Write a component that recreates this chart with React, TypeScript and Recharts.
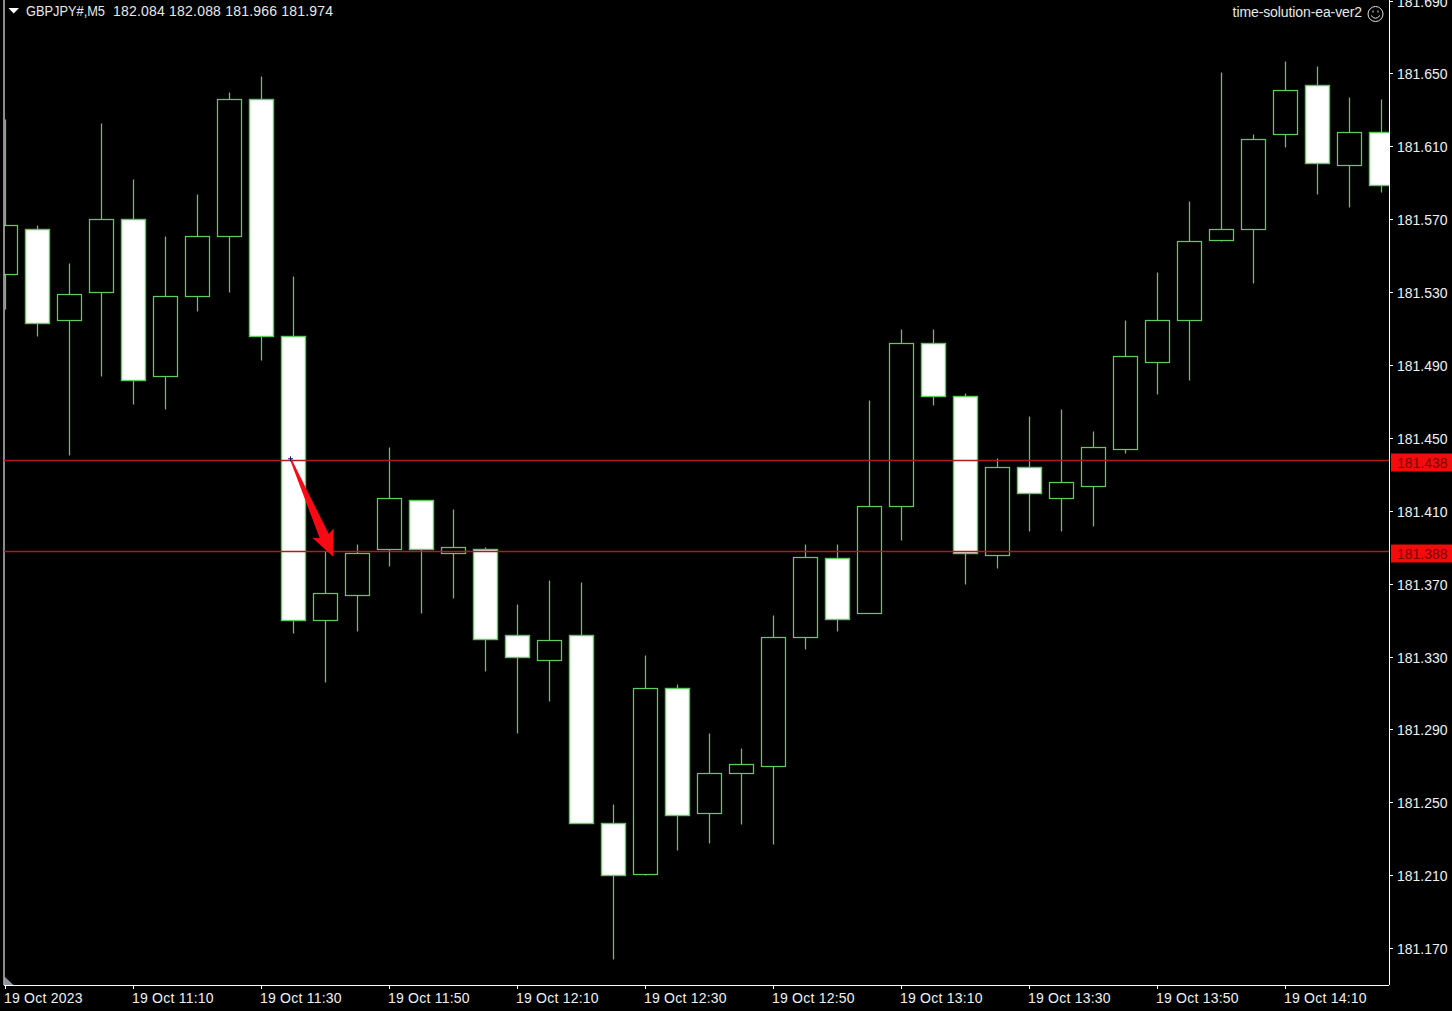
import React from "react";
import { ComposedChart, Bar, XAxis, YAxis, ReferenceLine } from "recharts";

const highs = [181.625,181.567,181.546,181.623,181.592,181.561,181.584,181.640,181.649,181.539,181.388,181.392,181.445,181.416,181.411,181.390,181.359,181.372,181.371,181.249,181.331,181.315,181.288,181.280,181.353,181.392,181.392,181.471,181.510,181.510,181.475,181.439,181.462,181.466,181.454,181.515,181.541,181.580,181.651,181.617,181.657,181.654,181.637,181.636];
const lows = [181.521,181.506,181.441,181.484,181.469,181.466,181.520,181.530,181.493,181.343,181.316,181.344,181.380,181.354,181.362,181.322,181.288,181.306,181.239,181.164,181.210,181.224,181.228,181.238,181.227,181.334,181.344,181.354,181.394,181.468,181.370,181.379,181.399,181.399,181.402,181.442,181.474,181.482,181.558,181.535,181.610,181.584,181.577,181.585];
const opens = [181.540,181.565,181.515,181.530,181.570,181.484,181.528,181.561,181.636,181.506,181.350,181.364,181.389,181.416,181.387,181.389,181.342,181.328,181.342,181.239,181.211,181.313,181.244,181.266,181.270,181.341,181.384,181.354,181.413,181.502,181.473,181.386,181.434,181.417,181.424,181.444,181.492,181.515,181.559,181.565,181.617,181.644,181.600,181.618];
const closes = [181.567,181.513,181.529,181.570,181.482,181.528,181.561,181.636,181.506,181.350,181.365,181.387,181.417,181.389,181.390,181.340,181.330,181.339,181.239,181.210,181.313,181.243,181.266,181.271,181.341,181.385,181.351,181.413,181.502,181.473,181.387,181.434,181.420,181.426,181.445,181.495,181.515,181.558,181.565,181.614,181.641,181.601,181.618,181.589];

const priceTicks = [181.17,181.21,181.25,181.29,181.33,181.37,181.41,181.45,181.49,181.53,181.57,181.61,181.65,181.69];
const timeTickIndex = [0,4,8,12,16,20,24,28,32,36,40];
const timeTickLabels = ["19 Oct 2023","19 Oct 11:10","19 Oct 11:30","19 Oct 11:50","19 Oct 12:10","19 Oct 12:30","19 Oct 12:50","19 Oct 13:10","19 Oct 13:30","19 Oct 13:50","19 Oct 14:10"];
const levels = [181.438, 181.388];
const arrowFrom = { i: 8.922, price: 181.4388 };
const arrowTo = { i: 10.259, price: 181.3851 };
const symbolText = "GBPJPY#,M5";
const ohlcText = "182.084 182.088 181.966 181.974";
const expertText = "time-solution-ea-ver2";

const table = highs.map((h, i) => ({ i, high: h, low: lows[i], open: opens[i], close: closes[i], range: [lows[i], h] }));

const FONT = "'Liberation Sans', sans-serif";
const GREEN = "#5fcb5f";
const X_MIN = -0.03125;
const X_MAX = 43.25;

const Candle = (p: any) => {
  const { x, width, y, height, payload } = p;
  const cx = Math.round(x + width / 2) + 0.5;
  const ppu = height / (payload.high - payload.low);
  const yOf = (v: number) => Math.floor(y + (payload.high - v) * ppu + 0.25) + 0.5;
  const top = yOf(Math.max(payload.open, payload.close));
  const bot = yOf(Math.min(payload.open, payload.close));
  const bear = payload.close < payload.open;
  return (
    <g>
      <line x1={cx} x2={cx} y1={yOf(payload.high)} y2={yOf(payload.low)} stroke={GREEN} strokeWidth={1.25} />
      <rect x={cx - 12} y={top} width={24} height={bot - top} fill={bear ? "#ffffff" : "#000000"} stroke={GREEN} strokeWidth={bear ? 1.4 : 1.25} />
    </g>
  );
};

const XTick = (p: any) => {
  const idx = timeTickIndex.indexOf(p.payload.value);
  return (
    <text x={p.x - 1} y={1003} fill="#f0f0f0" fontSize={14} fontFamily={FONT} textAnchor="start" letterSpacing={0.22}>
      {timeTickLabels[idx]}
    </text>
  );
};

const YTick = (p: any) => (
  <text x={1397} y={p.y + 5.5} fill="#f0f0f0" fontSize={14} fontFamily={FONT} textAnchor="start">
    {p.payload.value.toFixed(3)}
  </text>
);

const LevelLine = (price: number) => (p: any) => {
  const y = Math.floor(p.y1) + 0.5;
  return (
    <g>
      <line x1={p.x1} x2={p.x2} y1={y} y2={y} stroke="#b01c1c" strokeWidth={1.3} />
      <rect x={1391} y={y - 7} width={61} height={18} fill="#f20c0c" />
      <text x={1397} y={y + 7} fill="#7a0808" fontSize={14} fontFamily={FONT}>{price.toFixed(3)}</text>
    </g>
  );
};

const Arrow = (p: any) => {
  const { x1, y1, x2, y2 } = p;
  const dx = x2 - x1, dy = y2 - y1;
  const len = Math.hypot(dx, dy);
  const ux = dx / len, uy = dy / len;
  const nx = uy, ny = -ux;
  const pt = (along: number, side: number) => `${x1 + ux * along + nx * side},${y1 + uy * along + ny * side}`;
  const base = len - 25.6;
  const points = [pt(0, -0.8), pt(0, 0.8), pt(base + 3, 5), pt(base, 11.7), pt(len, 0), pt(base, -11.7), pt(base + 3, -5)].join(" ");
  return (
    <g>
      <polygon points={points} fill="#f80a14" />
      <path d={`M${x1 - 2.5} ${y1}H${x1 + 2.5}M${x1} ${y1 - 2.5}V${y1 + 2.5}`} stroke="#101070" strokeWidth={1} />
    </g>
  );
};

export default function App() {
  return (
    <div style={{ position: "absolute", left: 0, top: 0, width: 1452, height: 1011, background: "#000", overflow: "hidden" }}>
      <ComposedChart width={1452} height={1011} data={table} margin={{ top: 0, right: 0, bottom: 0, left: 4 }} style={{ background: "#000" }}>
        <XAxis dataKey="i" type="number" domain={[X_MIN, X_MAX]} allowDataOverflow ticks={timeTickIndex} interval={0} height={26} tick={<XTick />} tickSize={4} axisLine={{ stroke: "#fff", shapeRendering: "crispEdges" }} tickLine={{ stroke: "#fff", shapeRendering: "crispEdges" }} />
        <YAxis orientation="right" type="number" domain={[181.15, 181.6906]} ticks={priceTicks} interval={0} width={63} tick={<YTick />} tickSize={4} axisLine={{ stroke: "#fff", shapeRendering: "crispEdges" }} tickLine={{ stroke: "#fff", shapeRendering: "crispEdges" }} />
        <Bar dataKey="range" barSize={24} shape={<Candle />} isAnimationActive={false} />
        <ReferenceLine x={X_MIN} stroke="#c8c8c8" strokeWidth={1.4} />
        {levels.map((lv) => (
          <ReferenceLine key={lv} y={lv} shape={LevelLine(lv)} />
        ))}
        <ReferenceLine segment={[{ x: arrowFrom.i, y: arrowFrom.price }, { x: arrowTo.i, y: arrowTo.price }]} shape={<Arrow />} />
        <polygon points="8.5,8 19,8 13.7,13.5" fill="#fff" />
        <polygon points="4.5,976.5 4.5,985 13.5,985" fill="#8a94a0" />
        <text x={26} y={16} fill="#e8e8e8" fontSize={14} fontFamily={FONT} textLength={79} lengthAdjust="spacingAndGlyphs">{symbolText}</text>
        <text x={113} y={16} fill="#e8e8e8" fontSize={14} fontFamily={FONT} letterSpacing={0.2}>{ohlcText}</text>
        <text x={1362} y={17} fill="#e8e8e8" fontSize={14} fontFamily={FONT} textAnchor="end" letterSpacing={-0.1}>{expertText}</text>
        <g stroke="#e0e0e0" fill="none">
          <circle cx={1375.5} cy={14} r={7.5} strokeWidth={1} />
          <path d="M1371 15.5Q1375.5 21 1380 15.5" strokeWidth={1} />
          <path d="M1373 10.5V12.5M1378 10.5V12.5" strokeWidth={1} />
        </g>
      </ComposedChart>
    </div>
  );
}
